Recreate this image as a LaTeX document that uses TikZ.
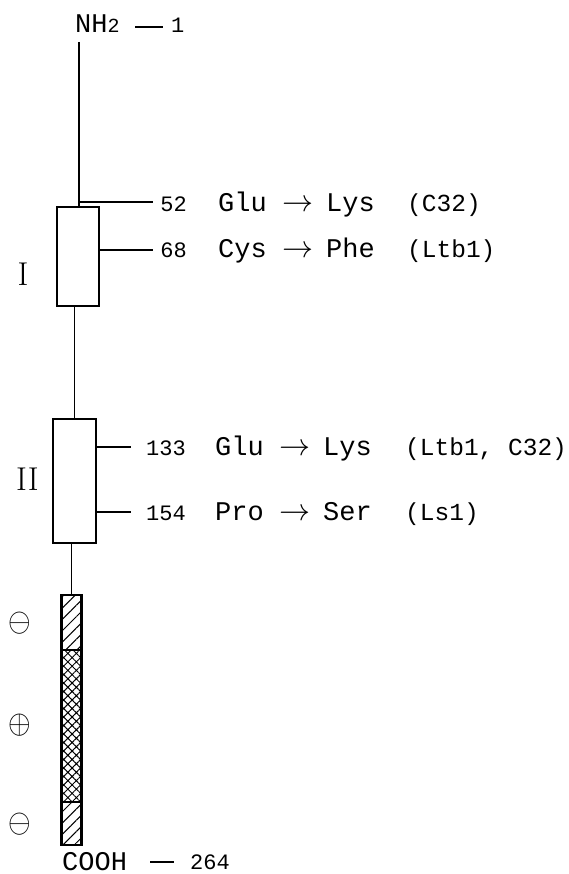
\RequirePackage{fix-cm}
\documentclass[tikz,border=0pt]{standalone}
\usepackage{fontspec}
\usepackage{graphicx}
\usetikzlibrary{patterns.meta}
\newfontfamily\plotfont{Liberation Mono}

\begin{document}
\begin{tikzpicture}[x=1pt,y=-1pt,
  backbone/.style={line width=1.7pt},
  sitetick/.style={line width=1.3pt},
  domainbox/.style={draw,line width=2.4pt,fill=white,inner sep=0pt},
  tailseg/.style={draw,line width=2.2pt,inner sep=0pt,minimum width=20pt},
  singlehatch/.style={tailseg,pattern={Lines[angle=45,distance=8pt,line width=1pt]}},
  crosshatch/.style={tailseg,pattern={Hatch[angle=45,distance=6pt,line width=1pt]}},
  word/.style={font=\plotfont\fontsize{27}{27}\selectfont,inner sep=0pt,anchor=base west},
  strain/.style={word,font=\plotfont\fontsize{24.5}{24.5}\selectfont},
  resno/.style={font=\plotfont\fontsize{22}{22}\selectfont,inner sep=0pt,anchor=base east},
  arr/.style={font=\fontsize{31}{31}\selectfont,inner sep=0pt,anchor=base},
  romanlabel/.style={font=\fontsize{33}{33}\selectfont,inner sep=0pt},
  chargelabel/.style={font=\fontsize{29}{29}\selectfont,inner sep=0pt},
]
\useasboundingbox (0,0) rectangle (569,874);

% N terminus
\node[word] (nh) at (75,33) {NH{\fontsize{20}{20}\selectfont 2}};
\node[resno,anchor=base west] (one) at (171,33) {1};
\coordinate (nhd1) at (135,27);
\coordinate (nhd2) at (163,27);
\draw[sitetick] (nhd1) -- (nhd2);

% domains I and II
\node[domainbox,minimum width=42pt,minimum height=99pt] (d1) at (78,256.5) {};
\node[domainbox,minimum width=43pt,minimum height=124pt] (d2) at (74.5,481) {};
\node[romanlabel] (r1) at (23,274) {I};
\node[romanlabel] (r2) at (27.5,479) {II};

% charged tail
\node[singlehatch,minimum height=55pt] (s1) at (71.5,622.5) {};
\node[crosshatch,minimum height=152pt] (s2) at (71.5,726) {};
\node[singlehatch,minimum height=43pt] (s3) at (71.5,823.5) {};
\node[chargelabel] (q1) at (20,623) {\scalebox{1}[1.15]{$\ominus$}};
\node[chargelabel] (q2) at (20,725) {\scalebox{1}[1.15]{$\oplus$}};
\node[chargelabel] (q3) at (20,824) {\scalebox{1}[1.15]{$\ominus$}};

% backbone
\coordinate (top) at (79,42);
\draw[backbone] (top) -- (top |- d1.north);
\draw[backbone] (d1.south -| d2.north) -- (d2.north);
\draw[backbone] (s1.north |- d2.south) -- (s1.north);

% C terminus
\node[word] (cooh) at (62,870) {COOH};
\node[resno,anchor=base west] (end) at (190,869) {264};
\coordinate (cd1) at (150,862);
\coordinate (cd2) at (174,862);
\draw[sitetick] (cd1) -- (cd2);

% mutation sites
\coordinate (p52) at (79,202);
\coordinate (e52) at (153,202);
\coordinate (e68) at (153,250);
\coordinate (e133) at (131,447);
\coordinate (e154) at (131,512);
\draw[sitetick] (p52) -- (e52);
\draw[sitetick] (d1.east |- e68) -- (e68);
\draw[sitetick] (d2.east |- e133) -- (e133);
\draw[sitetick] (d2.east |- e154) -- (e154);

\node[resno] (n52) at (187,212) {52};
\node[word] (a52) at (218,212) {Glu};
\node[arr] (t52) at (298,212) {$\rightarrow$};
\node[word] (b52) at (326,212) {Lys};
\node[strain] (c52) at (407,212) {(C32)};

\node[resno] (n68) at (187,258) {68};
\node[word] (a68) at (218,258) {Cys};
\node[arr] (t68) at (298,258) {$\rightarrow$};
\node[word] (b68) at (326,258) {Phe};
\node[strain] (c68) at (407,258) {(Ltb1)};

\node[resno] (n133) at (186,455) {133};
\node[word] (a133) at (215,455) {Glu};
\node[arr] (t133) at (295,455) {$\rightarrow$};
\node[word] (b133) at (323,455) {Lys};
\node[strain] (c133) at (405,455) {(Ltb1, C32)};

\node[resno] (n154) at (186,520) {154};
\node[word] (a154) at (215,520) {Pro};
\node[arr] (t154) at (295,520) {$\rightarrow$};
\node[word] (b154) at (323,520) {Ser};
\node[strain] (c154) at (405,520) {(Ls1)};
\end{tikzpicture}
\end{document}
